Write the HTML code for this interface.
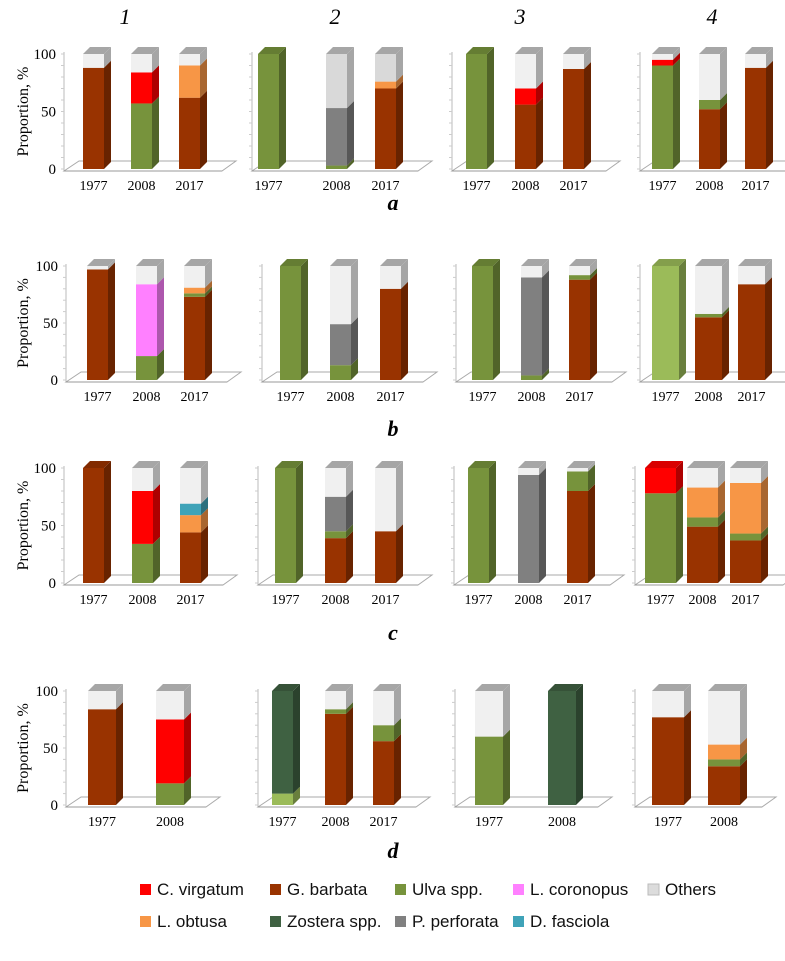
<!DOCTYPE html>
<html><head><meta charset="utf-8"><style>
body{margin:0;background:#fff;}
svg text{font-family:"Liberation Serif",serif;}
</style></head><body>
<svg id="chart" width="785" height="956" xmlns="http://www.w3.org/2000/svg"></svg>
<script>
const species = ["C. virgatum","G. barbata","Ulva spp.","L. coronopus","Others","L. obtusa","Zostera spp.","P. perforata","D. fasciola","Ulva light"];
const colors = {"C. virgatum":"#ff0000","G. barbata":"#993300","Ulva spp.":"#77933c","L. coronopus":"#ff80ff","Others":"#f0f0f0","Others2":"#d9d9d9","L. obtusa":"#f79646","Zostera spp.":"#3f6142","P. perforata":"#808080","D. fasciola":"#3fa3b8","Ulva light":"#9bbb59"};
const rowLabels = ["a","b","c","d"];
const colLabels = ["1","2","3","4"];
const yTicks = [0,50,100];
const a1 = [[["G. barbata",88]],[["Ulva spp.",57],["C. virgatum",27]],[["G. barbata",62],["L. obtusa",28]]];
const a2 = [[["Ulva spp.",100]],[["Ulva spp.",3],["P. perforata",50],["Others2",47]],[["G. barbata",70],["L. obtusa",6],["Others2",24]]];
const a3 = [[["Ulva spp.",100]],[["G. barbata",56],["C. virgatum",14]],[["G. barbata",87]]];
const a4 = [[["Ulva spp.",90],["C. virgatum",5]],[["G. barbata",52],["Ulva spp.",8]],[["G. barbata",88]]];
const b1 = [[["G. barbata",97]],[["Ulva spp.",21],["L. coronopus",63]],[["G. barbata",73],["Ulva spp.",3],["L. obtusa",5]]];
const b2 = [[["Ulva spp.",100]],[["Ulva spp.",13],["P. perforata",36]],[["G. barbata",80]]];
const b3 = [[["Ulva spp.",100]],[["Ulva spp.",4],["P. perforata",86]],[["G. barbata",88],["Ulva spp.",4]]];
const b4 = [[["Ulva light",100]],[["G. barbata",55],["Ulva spp.",3]],[["G. barbata",84]]];
const c1 = [[["G. barbata",100]],[["Ulva spp.",34],["C. virgatum",46]],[["G. barbata",44],["L. obtusa",15],["D. fasciola",10]]];
const c2 = [[["Ulva spp.",100]],[["G. barbata",39],["Ulva spp.",6],["P. perforata",30]],[["G. barbata",45]]];
const c3 = [[["Ulva spp.",100]],[["P. perforata",94]],[["G. barbata",80],["Ulva spp.",17]]];
const c4 = [[["Ulva spp.",78],["C. virgatum",22]],[["G. barbata",49],["Ulva spp.",8],["L. obtusa",26]],[["G. barbata",37],["Ulva spp.",6],["L. obtusa",44]]];
const d1 = [[["G. barbata",84]],[["Ulva spp.",19],["C. virgatum",56]]];
const d2 = [[["Ulva light",10],["Zostera spp.",90]],[["G. barbata",80],["Ulva spp.",4]],[["G. barbata",56],["Ulva spp.",14]]];
const d3 = [[["Ulva spp.",60]],[["Zostera spp.",100]]];
const d4 = [[["G. barbata",77]],[["G. barbata",34],["Ulva spp.",6],["L. obtusa",13]]];
const years3 = ["1977","2008","2017"];
const years2 = ["1977","2008"];

const rows = [{y0:169,y1:54,ly:210},{y0:380,y1:266,ly:436},{y0:583,y1:468,ly:640},{y0:805,y1:691,ly:858}];
const panels = [
 {r:0,c:0,data:a1,yrs:years3,xs:[83,131,179],w:21,ax:64},
 {r:0,c:1,data:a2,yrs:years3,xs:[258,326,375],w:21,ax:252},
 {r:0,c:2,data:a3,yrs:years3,xs:[466,515,563],w:21,ax:452},
 {r:0,c:3,data:a4,yrs:years3,xs:[652,699,745],w:21,ax:640},
 {r:1,c:0,data:b1,yrs:years3,xs:[87,136,184],w:21,ax:66},
 {r:1,c:1,data:b2,yrs:years3,xs:[280,330,380],w:21,ax:262},
 {r:1,c:2,data:b3,yrs:years3,xs:[472,521,569],w:21,ax:456},
 {r:1,c:3,data:b4,yrs:years3,xs:[652,695,738],w:27,ax:640},
 {r:2,c:0,data:c1,yrs:years3,xs:[83,132,180],w:21,ax:64},
 {r:2,c:1,data:c2,yrs:years3,xs:[275,325,375],w:21,ax:258},
 {r:2,c:2,data:c3,yrs:years3,xs:[468,518,567],w:21,ax:454},
 {r:2,c:3,data:c4,yrs:years3,xs:[645,687,730],w:31,ax:635},
 {r:3,c:0,data:d1,yrs:years2,xs:[88,156],w:28,ax:66},
 {r:3,c:1,data:d2,yrs:years3,xs:[272,325,373],w:21,ax:258},
 {r:3,c:2,data:d3,yrs:years2,xs:[475,548],w:28,ax:455},
 {r:3,c:3,data:d4,yrs:years2,xs:[652,708],w:32,ax:635}
];
const D = 7;
const svg = document.getElementById('chart');
const NS = "http://www.w3.org/2000/svg";
function mk(tag, attrs, parent){const e=document.createElementNS(NS,tag);for(const k in attrs)e.setAttribute(k,attrs[k]);(parent||svg).appendChild(e);return e;}
function shade(hex,f){const n=parseInt(hex.slice(1),16);let r=(n>>16)&255,g=(n>>8)&255,b=n&255;r=Math.round(r*f);g=Math.round(g*f);b=Math.round(b*f);return `rgb(${r},${g},${b})`;}

colLabels.forEach((t,i)=>{const e=mk('text',{x:[125,335,520,712][i],y:24,'font-size':22,'font-style':'italic','text-anchor':'middle'});e.textContent=t;

});
rows.forEach((R,i)=>{
 const e=mk('text',{x:393,y:R.ly,'font-size':22,'font-style':'italic','font-weight':'bold','text-anchor':'middle'});e.textContent=rowLabels[i];
 
 
 const t=mk('text',{x:0,y:0,'font-size':16,'text-anchor':'middle',transform:`translate(28,${(R.y0+R.y1)/2}) rotate(-90)`});t.textContent="Proportion, %";
 
 
});

panels.forEach(P=>{
 const R=rows[P.r];
 const g=mk('g',{});
 
 
 const yS=v=>R.y0-(R.y0-R.y1)*v/100;
 const right=P.xs[P.xs.length-1]+P.w+28;
 mk('line',{x1:P.ax,y1:R.y0+2,x2:P.ax,y2:R.y1-2,stroke:'#bbb','stroke-width':1},g);
 for(let v=0;v<=100;v+=10){mk('line',{x1:P.ax-3,y1:yS(v),x2:P.ax,y2:yS(v),stroke:'#ccc'},g);}
 mk('path',{d:`M${P.ax},${R.y0+2} L${P.ax+D+8},${R.y0-8} L${right+8},${R.y0-8} L${right-6},${R.y0+2} Z`,fill:'none',stroke:'#aaa'},g);
 mk('line',{x1:P.ax,y1:R.y0+2,x2:right-6,y2:R.y0+2,stroke:'#999'},g);
 if(P.c===0){yTicks.forEach(v=>{const t=mk('text',{x:P.ax-8,y:yS(v)+5,'font-size':15,'text-anchor':'end'},g);t.textContent=v;
 
 });}
 P.data.forEach((segs,bi)=>{
  const x=P.xs[bi],w=P.w;
  const all=segs.slice();const sum=segs.reduce((s,q)=>s+q[1],0);
  if(sum<99.5) all.push(["Others",100-sum]);
  let acc=0;let topCol='#aaa';
  all.forEach(([sp,v])=>{
   const ya=yS(acc),yb=yS(acc+v);acc+=v;
   const col=colors[sp];
   const isO=sp.startsWith("Others");
   const r=mk('rect',{x:x,y:yb,width:w,height:ya-yb,fill:col},g);
   
   
   mk('path',{d:`M${x+w},${ya} L${x+w+D},${ya-D} L${x+w+D},${yb-D} L${x+w},${yb} Z`,fill:isO?'#a6a6a6':shade(col,0.68)},g);
   topCol=isO?'#a6a6a6':shade(col,0.85);
  });
  const yt=yS(acc);
  mk('path',{d:`M${x},${yt} L${x+D},${yt-D} L${x+w+D},${yt-D} L${x+w},${yt} Z`,fill:topCol},g);
  const t=mk('text',{x:x+w/2,y:R.y0+21,'font-size':14,'text-anchor':'middle'},g);t.textContent=P.yrs[bi];
  
  
 });
});

const legend=[["C. virgatum",140,895],["G. barbata",270,895],["Ulva spp.",395,895],["L. coronopus",513,895],["Others",648,895],
 ["L. obtusa",140,927],["Zostera spp.",270,927],["P. perforata",395,927],["D. fasciola",513,927]];
legend.forEach(([sp,x,y])=>{
 const g=mk('g',{});
 
 
 mk('rect',{x:x,y:y-11,width:11,height:11,fill:sp==="Others"?'#dcdcdc':colors[sp],stroke:sp==="Others"?'#bbb':'none'},g);
 const t=mk('text',{x:x+17,y:y,'font-size':17,fill:'#111'},g);t.textContent=sp;t.style.fontFamily='"Liberation Sans",sans-serif';
});
</script>
</body></html>
